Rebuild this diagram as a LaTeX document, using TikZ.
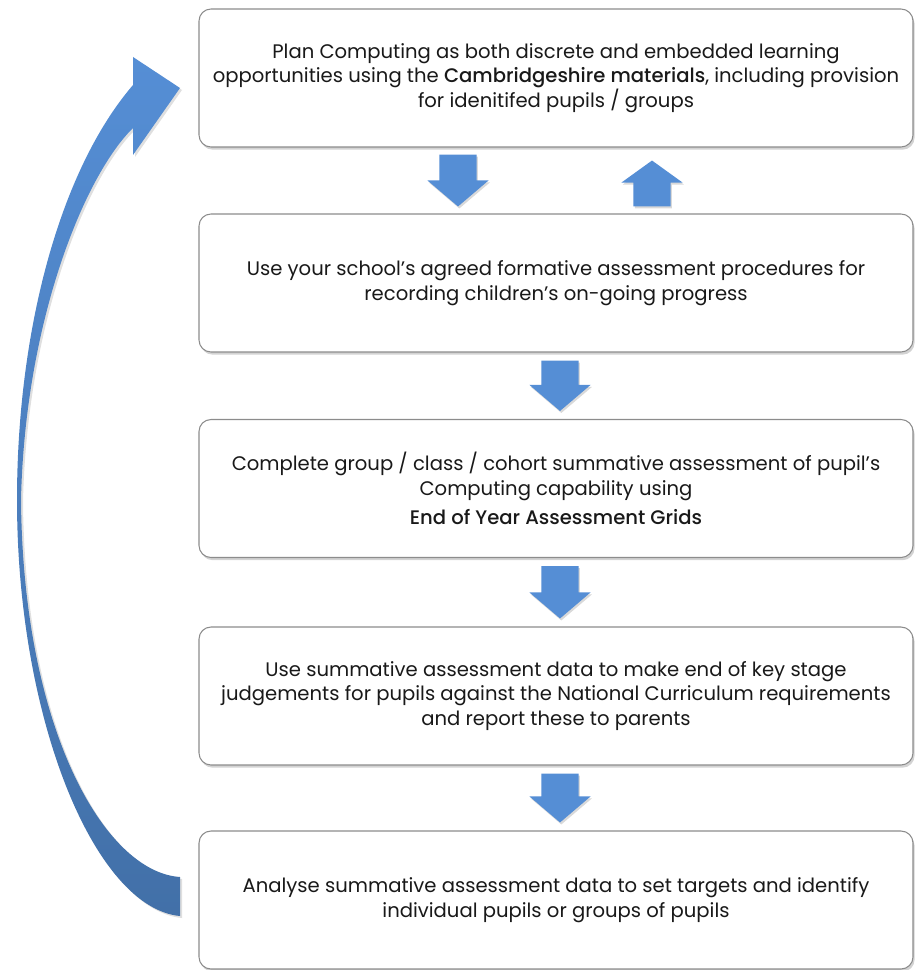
\documentclass[tikz,border=0pt]{standalone}
\usepackage{fontspec}
\setmainfont{Poppins}[BoldFont={Poppins Medium}]
\usetikzlibrary{calc,shadows}
\definecolor{arrowblue}{RGB}{85,142,213}
\definecolor{arrowdark}{RGB}{66,112,168}
\definecolor{boxline}{RGB}{140,140,140}
\definecolor{textcol}{RGB}{25,25,25}
\tikzset{
 stepbox/.style={draw=boxline, line width=0.8pt, fill=white, rounded corners=9pt,
   minimum width=535.5pt, minimum height=103.5pt, align=center, inner sep=0pt,
   text=textcol, font=\fontsize{14.7}{18.5}\selectfont,
   drop shadow={opacity=0.35, shadow xshift=1.2pt, shadow yshift=-2pt}},
 blockarrow/.style={fill=arrowblue, drop shadow={opacity=0.3, shadow xshift=1pt, shadow yshift=-1.5pt}},
}
% #1 start coordinate, #2 tip coordinate, #3 signed head length
\newcommand\vblock[3]{\path[blockarrow] let \p1=(#1), \p2=(#2) in
  (\x1-13.9pt,\y1) -- (\x1+13.9pt,\y1) -- (\x1+13.9pt,\y2+#3) -- (\x1+22.9pt,\y2+#3)
  -- (\x1,\y2) -- (\x1-22.9pt,\y2+#3) -- (\x1-13.9pt,\y2+#3) -- cycle;}
\begin{document}
\begin{tikzpicture}[x=0.75pt,y=-0.75pt]
\useasboundingbox (0,0) rectangle (914,970);

% big curved return arrow
\shade[top color=arrowblue, bottom color=arrowdark,
  drop shadow={opacity=0.25, shadow xshift=1.5pt, shadow yshift=-1.5pt}]
  (180,916) .. controls (95,908) and (17,720) .. (17,500)
  .. controls (17,330) and (60,170) .. (133,85) -- (133,57) -- (180,88) -- (133,155) -- (133,128)
  .. controls (85,175) and (25,320) .. (21,500)
  .. controls (23,730) and (105,872) .. (180,877) -- cycle;

\node[stepbox] (b1) at (556,78) {Plan Computing as both discrete and embedded learning\\
  opportunities using the \textbf{Cambridgeshire materials}, including provision\\
  for idenitifed pupils / groups};
\node[stepbox] (b2) at (556,283) {Use your school's agreed formative assessment procedures for\\
  recording children's on-going progress};
\node[stepbox] (b3) at (556,488.5) {Complete group / class / cohort summative assessment of pupil's\\
  Computing capability using\\[3pt]
  \textbf{End of Year Assessment Grids}};
\node[stepbox] (b4) at (556,696) {Use summative assessment data to make end of key stage\\
  judgements for pupils against the National Curriculum requirements\\
  and report these to parents};
\node[stepbox] (b5) at (556,900) {Analyse summative assessment data to set targets and identify\\
  individual pupils or groups of pupils};

\coordinate (d1s) at ($(b1.south)+(-98,7)$);
\coordinate (d1t) at ($(b2.north)+(-98,-7)$);
\coordinate (u1s) at ($(b2.north)+(96,-7)$);
\coordinate (u1t) at ($(b1.south)+(96,13)$);
\coordinate (d2s) at ($(b2.south)+(4,8)$);
\coordinate (d2t) at ($(b3.north)+(4,-8)$);
\coordinate (d3s) at ($(b3.south)+(4,8)$);
\coordinate (d3t) at ($(b4.north)+(4,-8)$);
\coordinate (d4s) at ($(b4.south)+(4,8)$);
\coordinate (d4t) at ($(b5.north)+(4,-8)$);

\vblock{d1s}{d1t}{19.5pt}
\vblock{u1s}{u1t}{-16.5pt}
\vblock{d2s}{d2t}{19.5pt}
\vblock{d3s}{d3t}{19.5pt}
\vblock{d4s}{d4t}{19.5pt}
\end{tikzpicture}
\end{document}
